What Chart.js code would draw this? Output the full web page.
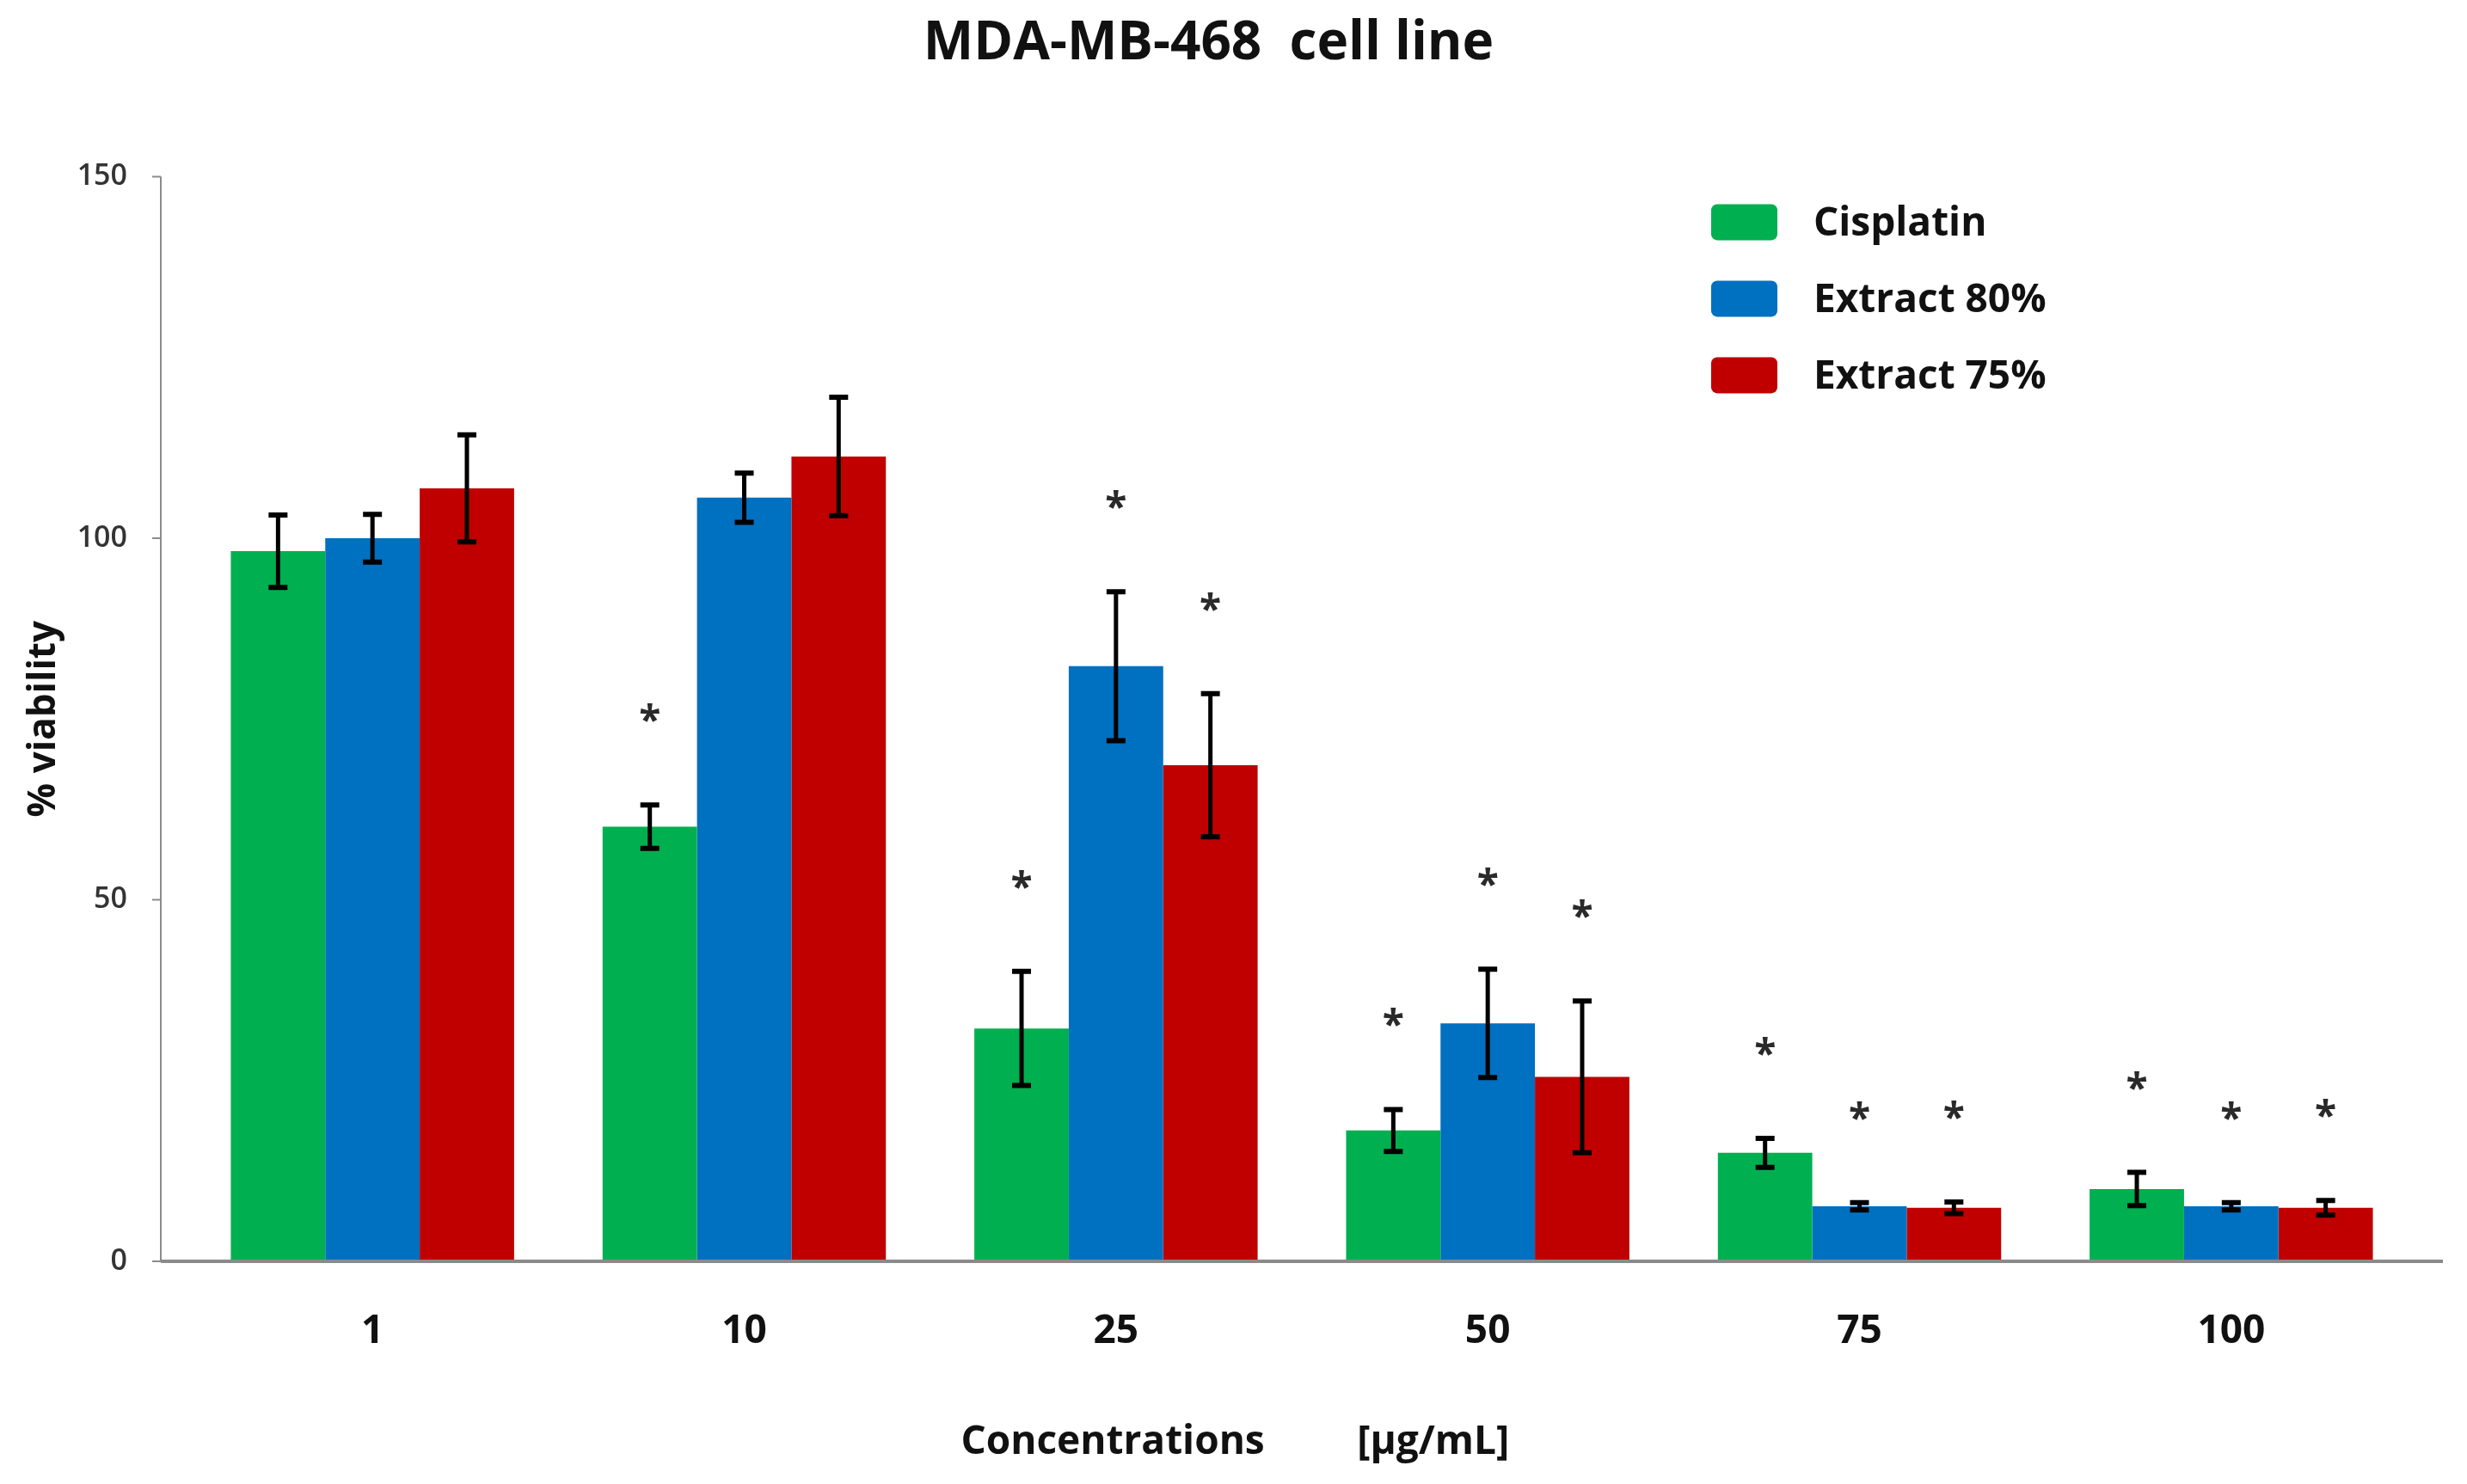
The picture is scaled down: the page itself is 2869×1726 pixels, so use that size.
<!DOCTYPE html>
<html>
<head>
<meta charset="utf-8">
<script src="https://cdn.jsdelivr.net/npm/chart.js@4"></script>
<style>
    html, body { margin: 0; padding: 0; background: #ffffff; }
    #wrap { width: 2869px; height: 1726px; }
</style>
</head>
<body>
<div id="wrap"><canvas id="chart" width="2869" height="1726"></canvas></div>
<script>
// MDA-MB-468 viability per concentration
var categories = ["1", "10", "25", "50", "75", "100"];
var seriesNames = ["Cisplatin", "Extract 80%", "Extract 75%"];

var cisplatin = [98.2, 60.1, 32.2, 18.1, 15.0, 10.0];
var extract80 = [100.0, 105.6, 82.3, 32.9, 7.6, 7.6];
var extract75 = [106.9, 111.3, 68.6, 25.5, 7.4, 7.4];

var cisplatinErr = [5.0, 3.0, 7.9, 2.9, 2.0, 2.3];
var extract80Err = [3.3, 3.4, 10.3, 7.5, 0.5, 0.5];
var extract75Err = [7.4, 8.2, 9.9, 10.5, 0.8, 1.0];

// asterisk = significant vs control
var cisplatinSig = [false, true, true, true, true, true];
var extract80Sig = [false, false, true, true, true, true];
var extract75Sig = [false, false, true, true, true, true];

var yTicks = [0, 50, 100, 150];

var FONT = "'Open Sans', 'Noto Sans', 'DejaVu Sans', sans-serif";
var colors = ["#00b050", "#0070c0", "#c00000"];
var errors = [cisplatinErr, extract80Err, extract75Err];
var sigs = [cisplatinSig, extract80Sig, extract75Sig];
var AXIS_EXT = 30;   // axis lines reach a bit past the category bands

// error bars + asterisks on top of each bar
var errorBarPlugin = {
    id: "errorBars",
    afterDatasetsDraw: function (chart) {
        var ctx = chart.ctx;
        var y = chart.scales.y;
        ctx.save();
        chart.data.datasets.forEach(function (ds, d) {
            var meta = chart.getDatasetMeta(d);
            meta.data.forEach(function (bar, i) {
                var v = ds.data[i];
                var e = errors[d][i];
                var top = y.getPixelForValue(v + e);
                var bot = y.getPixelForValue(v - e);
                ctx.strokeStyle = "#000000";
                ctx.lineWidth = 5;
                ctx.beginPath();
                ctx.moveTo(bar.x, top);
                ctx.lineTo(bar.x, bot);
                ctx.stroke();
                ctx.lineWidth = 6;
                ctx.beginPath();
                ctx.moveTo(bar.x - 11, top);
                ctx.lineTo(bar.x + 11, top);
                ctx.moveTo(bar.x - 11, bot);
                ctx.lineTo(bar.x + 11, bot);
                ctx.stroke();

                if (sigs[d][i]) {
                    ctx.fillStyle = "#2a2a2a";
                    ctx.font = "bold 46px " + FONT;
                    ctx.textAlign = "center";
                    ctx.textBaseline = "alphabetic";
                    ctx.fillText("*", bar.x, top - 82);
                }
            });
        });
        ctx.restore();
    }
};

// axis lines drawn by hand so they run past the outer bands
var axisPlugin = {
    id: "axisLines",
    afterDraw: function (chart) {
        var ctx = chart.ctx;
        var a = chart.chartArea;
        var y = chart.scales.y;
        var x0 = a.left - AXIS_EXT;
        ctx.save();
        ctx.strokeStyle = "#8c8c8c";
        ctx.lineWidth = 2;
        ctx.beginPath();
        ctx.moveTo(x0, y.getPixelForValue(yTicks[yTicks.length - 1]));
        ctx.lineTo(x0, a.bottom);
        yTicks.forEach(function (t) {
            var py = y.getPixelForValue(t);
            ctx.moveTo(x0 - 10, py);
            ctx.lineTo(x0, py);
        });
        ctx.stroke();
        ctx.strokeStyle = "#8a8a8a";
        ctx.lineWidth = 4;
        ctx.beginPath();
        ctx.moveTo(x0, a.bottom);
        ctx.lineTo(a.right + AXIS_EXT, a.bottom);
        ctx.stroke();
        ctx.restore();
    }
};

// legend in the upper right of the plot
var legendPlugin = {
    id: "boxLegend",
    afterDraw: function (chart) {
        var ctx = chart.ctx;
        var a = chart.chartArea;
        var left = a.right - 821;
        var rowTop = a.top + 32;
        ctx.save();
        ctx.font = "bold 46px " + FONT;
        ctx.textAlign = "left";
        ctx.textBaseline = "middle";
        chart.data.datasets.forEach(function (ds, d) {
            var cy = rowTop + 21 + d * 89;
            ctx.fillStyle = ds.backgroundColor;
            ctx.beginPath();
            ctx.roundRect(left, cy - 21, 77, 42, 7);
            ctx.fill();
            ctx.fillStyle = "#111111";
            ctx.fillText(ds.label, left + 119, cy + 2);
        });
        ctx.restore();
    }
};

var datasets = [cisplatin, extract80, extract75].map(function (vals, d) {
    return {
        label: seriesNames[d],
        data: vals,
        backgroundColor: colors[d],
        borderWidth: 0,
        categoryPercentage: 0.762,
        barPercentage: 1.0
    };
});

new Chart(document.getElementById("chart"), {
    type: "bar",
    data: { labels: categories, datasets: datasets },
    options: {
        responsive: false,
        maintainAspectRatio: false,
        devicePixelRatio: 1,
        animation: false,
        layout: { padding: { left: 0, right: 58, top: 0, bottom: 0 } },
        plugins: {
            legend: { display: false },
            tooltip: { enabled: false },
            title: {
                display: true,
                text: "MDA-MB-468  cell line",
                color: "#111111",
                font: { family: FONT, size: 62, weight: "bold" },
                padding: { top: 14, bottom: 117 }
            }
        },
        scales: {
            x: {
                grid: { display: false },
                border: { display: false },
                ticks: {
                    color: "#111111",
                    padding: 46,
                    font: { family: FONT, size: 46, weight: "bold" }
                },
                title: {
                    display: true,
                    text: "Concentrations         [\u00b5g/mL]             ",
                    color: "#111111",
                    font: { family: FONT, size: 46, weight: "bold" },
                    padding: { top: 0, bottom: 21 }
                },
                afterFit: function (scale) { scale.height = 259; }
            },
            y: {
                min: 0,
                max: 150,
                afterBuildTicks: function (scale) {
                    scale.ticks = yTicks.map(function (v) { return { value: v }; });
                },
                grid: { display: false },
                border: { display: false },
                ticks: {
                    color: "#333333",
                    padding: 61,
                    font: { family: FONT, size: 34, weight: "600" }
                },
                title: {
                    display: true,
                    text: "% viability",
                    color: "#111111",
                    font: { family: FONT, size: 44, weight: "bold" },
                    padding: { top: 25, bottom: 0 }
                },
                afterFit: function (scale) { scale.width = 217; }
            }
        }
    },
    plugins: [errorBarPlugin, axisPlugin, legendPlugin]
});
</script>
</body>
</html>
